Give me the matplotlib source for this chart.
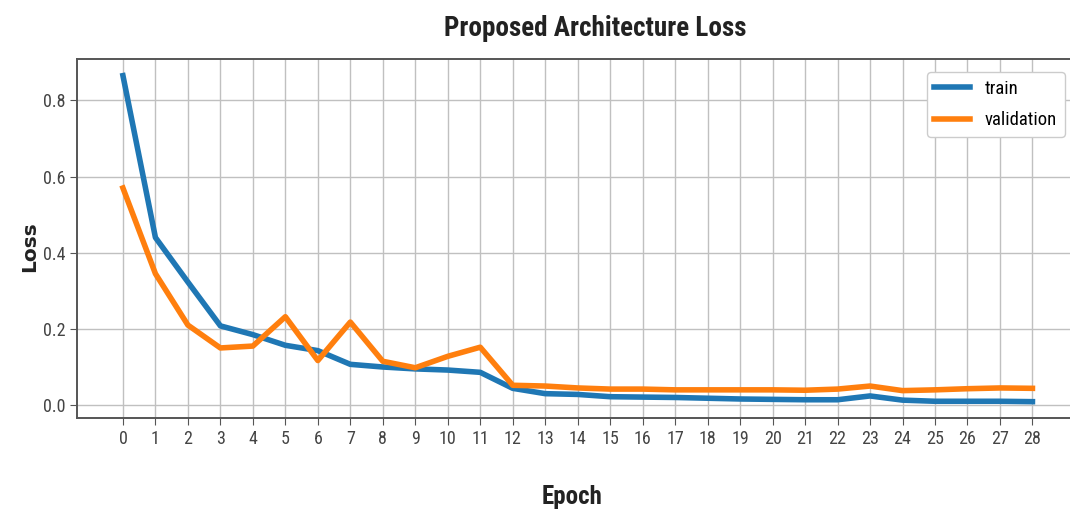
import matplotlib
matplotlib.use("Agg")
import matplotlib.pyplot as plt
from matplotlib import font_manager
import numpy as np

# loss history per epoch
epochs = list(range(29))
train_loss = [0.865, 0.44, 0.323, 0.208, 0.185, 0.157, 0.143, 0.107, 0.100, 0.095,
              0.092, 0.086, 0.044, 0.030, 0.028, 0.022, 0.021, 0.020, 0.018, 0.016,
              0.015, 0.014, 0.014, 0.024, 0.013, 0.010, 0.010, 0.010, 0.009]
val_loss = [0.570, 0.345, 0.210, 0.150, 0.155, 0.232, 0.117, 0.218, 0.115, 0.098,
            0.128, 0.152, 0.052, 0.050, 0.045, 0.042, 0.042, 0.040, 0.040, 0.040,
            0.040, 0.039, 0.042, 0.050, 0.038, 0.040, 0.043, 0.045, 0.044]

# prefer a condensed face if one is around
fonts = font_manager.fontManager.ttflist
names = {f.name for f in fonts}
narrow = [f for f in fonts if f.stretch in ("condensed", "semi-condensed", 600 - 100 * 2)
          or "Condensed" in f.fname or "Narrow" in f.fname]
fam = "DejaVu Sans"
for cand in ["Liberation Sans Narrow", "Roboto Condensed", "Open Sans Condensed"]:
    if cand in names:
        fam = cand
        break
else:
    if narrow:
        fam = narrow[0].name
        plt.rcParams["font.stretch"] = narrow[0].stretch
plt.rcParams["font.family"] = fam

fig = plt.figure(figsize=(10.7, 5.16), dpi=100)
ax = fig.add_axes([0.0724, 0.19, 0.935, 0.695])

ax.plot(epochs, train_loss, color="#1f77b4", lw=4, label="train")
ax.plot(epochs, val_loss, color="#ff7f0e", lw=4, label="validation")

ax.set_xticks(epochs)
ax.set_yticks([0.0, 0.2, 0.4, 0.6, 0.8])
ax.tick_params(labelsize=13, labelcolor="#444444", color="#555555", length=5)
ax.grid(True, color="#c0c0c0", lw=1.0)
for s in ax.spines.values():
    s.set_color("#555555")
    s.set_linewidth(1.4)

ax.legend(loc="upper right", fontsize=13.5, handlelength=1.9, labelspacing=0.7,
          framealpha=1, edgecolor="#cccccc", borderaxespad=0.7)

fig.text(0.556, 0.945, "Proposed Architecture Loss", ha="center", va="center",
         fontsize=19.5, fontweight="bold", color="#222222")
fig.text(0.535, 0.037, "Epoch", ha="center", va="center", fontsize=18,
         fontweight="bold", color="#222222")
fig.text(0.028, 0.523, "Loss", ha="center", va="center", rotation=90,
         family="DejaVu Sans", fontsize=14.5, fontweight="bold", color="#222222")

fig.savefig("out.png", dpi=100)
